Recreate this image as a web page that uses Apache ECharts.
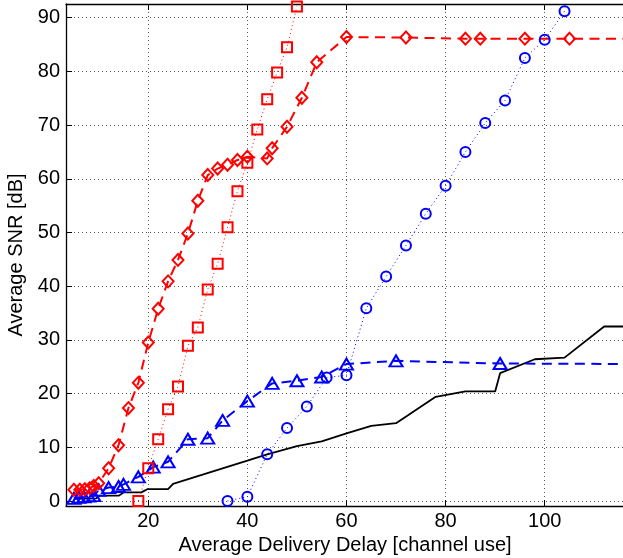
<!DOCTYPE html>
<html>
<head>
<meta charset="utf-8">
<script src="https://cdn.jsdelivr.net/npm/echarts@6/dist/echarts.min.js"></script>
<style>
html,body{margin:0;padding:0;background:#fff;}
#chart{width:623px;height:558px;}
</style>
</head>
<body>
<div id="chart"></div>
<script>
// ---- data ----
const xTicks = [20, 40, 60, 80, 100];
const yTicks = [0, 10, 20, 30, 40, 50, 60, 70, 80, 90];

const diamondX = [5, 6.2, 7.2, 8.2, 9, 10, 12, 14, 16, 18, 20, 22, 24, 26, 28, 30, 32, 34, 36, 38, 40, 44, 45, 48, 51, 54, 60, 72, 84, 87, 96, 105, 120];
const diamondY = [2.1, 2.1, 2.2, 2.4, 2.8, 3.3, 6.1, 10.4, 17.3, 22, 29.5, 35.8, 40.9, 44.9, 49.8, 55.9, 60.7, 61.9, 62.6, 63.5, 64.1, 63.8, 65.7, 69.7, 75.1, 81.7, 86.4, 86.3, 86.1, 86.1, 86.1, 86.1, 86.1];

const squareX = [18, 20, 22, 24, 26, 28, 30, 32, 34, 36, 38, 40, 42, 44, 46, 48, 50];
const squareY = [0, 6.1, 11.5, 17.1, 21.3, 28.9, 32.3, 39.4, 44.2, 51, 57.7, 63, 69.2, 74.8, 79.8, 84.5, 92.1];

const triangleX = [5, 6, 7, 8, 9, 10, 12, 14, 15, 18, 21, 24, 28, 32, 35, 40, 45, 50, 55, 60, 70, 91, 120];
const triangleY = [0.5, 0.7, 0.8, 0.9, 1.0, 2.0, 2.5, 2.7, 3.1, 4.5, 6.3, 7.3, 11.5, 11.7, 15, 18.6, 21.9, 22.4, 23.1, 25.5, 26.1, 25.6, 25.5];

const circleX = [36, 40, 44, 48, 52, 56, 60, 64, 68, 72, 76, 80, 84, 88, 92, 96, 100, 104];
const circleY = [0, 0.8, 8.7, 13.6, 17.6, 23, 23.4, 35.9, 41.8, 47.6, 53.5, 58.7, 65, 70.4, 74.6, 82.5, 85.9, 91.2];

const blackX = [5, 9.5, 10.2, 14.1, 15, 18.6, 19.8, 24, 25, 40, 44, 50, 55, 60, 65, 70, 78, 84, 90, 91, 98, 104, 112, 116];
const blackY = [0.4, 0.5, 1.0, 1.0, 1.6, 1.6, 2.2, 2.2, 3.2, 7.5, 8.7, 10.2, 11.1, 12.6, 14.0, 14.5, 19.4, 20.4, 20.4, 23.8, 26.4, 26.7, 32.5, 32.5];

const xLabel = 'Average Delivery Delay [channel use]';
const yLabel = 'Average SNR [dB]';

function pairs(xs, ys) { return xs.map((x, i) => [x, ys[i]]); }

const FONT = 'Liberation Sans';
const RED = '#ff0000', BLUE = '#0000ff';

const chart = echarts.init(document.getElementById('chart'), null, {renderer: 'canvas'});

const gridLine = {show: true, lineStyle: {color: '#555', width: 1, type: [1, 3]}};

chart.setOption({
  animation: false,
  backgroundColor: '#fff',
  grid: {left: 66, right: -1, top: 4, bottom: 52, containLabel: false, outerBoundsMode: 'none'},
  xAxis: [{
    type: 'value', min: 3.4, max: 116, position: 'bottom',
    name: xLabel, nameLocation: 'middle', nameGap: 26,
    nameTextStyle: {fontFamily: FONT, fontSize: 20, color: '#000'},
    axisLine: {show: true, onZero: false, lineStyle: {color: '#000', width: 1.3}},
    axisTick: {show: true, inside: true, length: 6, customValues: xTicks, lineStyle: {color: '#000', width: 1}},
    axisLabel: {show: true, customValues: xTicks, margin: 5, fontFamily: FONT, fontSize: 20, color: '#000'},
    splitLine: gridLine
  }, {
    type: 'value', min: 3.4, max: 116, position: 'top',
    axisLine: {show: true, onZero: false, lineStyle: {color: '#000', width: 1.3}},
    axisTick: {show: true, inside: true, length: 6, customValues: xTicks, lineStyle: {color: '#000', width: 1}},
    axisLabel: {show: false},
    splitLine: {show: false}
  }],
  yAxis: [{
    type: 'value', min: -0.93, max: 92.55,
    name: yLabel, nameLocation: 'middle', nameGap: 33, nameRotate: 90,
    nameTextStyle: {fontFamily: FONT, fontSize: 20, color: '#000'},
    axisLine: {show: true, onZero: false, lineStyle: {color: '#000', width: 1.3}},
    axisTick: {show: true, inside: true, length: 6, customValues: yTicks, lineStyle: {color: '#000', width: 1}},
    axisLabel: {show: true, customValues: yTicks, margin: 6, fontFamily: FONT, fontSize: 20, color: '#000'},
    splitLine: gridLine
  }],
  series: [
    {
      type: 'line', data: pairs(blackX, blackY), showSymbol: false, symbol: 'none',
      lineStyle: {color: '#000', width: 1.8, type: 'solid'}, z: 2
    },
    {
      type: 'line', data: pairs(circleX, circleY), symbol: 'circle', symbolSize: 10,
      itemStyle: {color: 'rgba(0,0,0,0)', borderColor: BLUE, borderWidth: 2},
      lineStyle: {color: BLUE, width: 1, type: [1, 3]}, z: 3
    },
    {
      type: 'line', data: pairs(triangleX, triangleY), symbol: 'triangle', symbolSize: [13, 11],
      itemStyle: {color: 'rgba(0,0,0,0)', borderColor: BLUE, borderWidth: 2},
      lineStyle: {color: BLUE, width: 2, type: [10, 6.5]}, z: 3
    },
    {
      type: 'line', data: pairs(squareX, squareY), symbol: 'rect', symbolSize: 10,
      itemStyle: {color: 'rgba(0,0,0,0)', borderColor: RED, borderWidth: 2},
      lineStyle: {color: RED, width: 1, type: [1, 3]}, z: 3
    },
    {
      type: 'line', data: pairs(diamondX, diamondY), symbol: 'diamond', symbolSize: [11, 12],
      itemStyle: {color: 'rgba(0,0,0,0)', borderColor: RED, borderWidth: 2},
      lineStyle: {color: RED, width: 2, type: [10, 6.5]}, z: 3
    }
  ]
});
</script>
</body>
</html>
